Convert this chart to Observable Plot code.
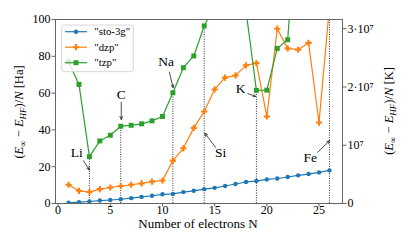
<!DOCTYPE html>
<html><head><meta charset="utf-8">
<script src="https://cdn.jsdelivr.net/npm/d3@7"></script>
<script src="https://cdn.jsdelivr.net/npm/@observablehq/plot@0.6"></script>
<style>body{margin:0;background:#fff}#chart{width:415px;height:249px}</style>
</head><body><div id="chart"></div>
<script>
// Number of electrons
const electrons = [1,2,3,4,5,6,7,8,9,10,11,12,13,14,15,16,17,18,19,20,21,22,23,24,25,26];
// (E_inf - E_HF)/N in Ha
const sto3g = [0.4,0.7,1.1,1.6,1.9,2.3,2.9,3.6,4.2,5.0,5.2,6.2,6.9,7.8,8.5,9.5,10.6,11.7,12.2,13.1,13.6,14.4,15.3,16.0,16.9,18.0];
const dzp   = [10.2,6.9,6.2,7.8,8.7,9.5,10.2,10.9,11.9,12.5,23.3,30.0,41.1,50.0,62.0,68.4,69.6,75.1,76.3,47.3,95.0,84.3,83.6,87.3,44.0,107];
const tzp   = [77,64.7,25.5,34.0,37.1,42.0,42.5,43.3,44.9,47.3,60.2,73.8,80.2,96.5,108,118,114,105,61.5,61.6,84.3,89.0,170,null,null,null];
const seriesNames = ['"sto-3g"', '"dzp"', '"tzp"'];
const seriesColors = ["#1f77b4", "#ff7f0e", "#2ca02c"];
const seriesSymbols = ["circle", "cross", "square"];

// element annotations
const elemNames = ["Li", "C", "Na", "Si", "K", "Fe"];
const elemN     = [3, 6, 11, 14, 19, 26];
const elemTop   = [25.5, 42.0, 60.2, 96.5, 61.5, 100];
const labelN    = [1.79, 6.05, 10.35, 15.57, 17.49, 24.15];
const labelV    = [27.5, 59.0, 76.9, 27.5, 62.4, 24.7];
const arrowFromN = [2.42, 6.05, 10.66, 15.09, 18.19, 24.87];
const arrowFromV = [23.3, 55.1, 71.4, 30.5, 59.7, 27.8];
const arrowToN   = [3.0, 6.05, 11.02, 14.06, 18.93, 26.02];
const arrowToV   = [18.2, 45.7, 62.9, 38.2, 58.2, 34.2];

const xTicks = [0, 5, 10, 15, 20, 25];
const yTicks = [0, 20, 40, 60, 80, 100];
const kTicks = [0, 1e7, 2e7, 3e7];
const HA_TO_K = 315775;

const SERIF = "'Liberation Serif', 'Times New Roman', serif";
const markR = [2.2, 2.6, 2.8];

const rows = [];
[sto3g, dzp, tzp].forEach((vals, s) => vals.forEach((v, i) => rows.push({N: electrons[i], v, s: seriesNames[s]})));
const elems = elemNames.map((name, i) => ({name, N: elemN[i], top: elemTop[i], lx: labelN[i], ly: labelV[i],
  x1: arrowFromN[i], y1: arrowFromV[i], x2: arrowToN[i], y2: arrowToV[i]}));

const kFormat = d => {
  const n = Math.round(d * HA_TO_K / 1e7);
  return n === 0 ? "0" : (n === 1 ? "10⁷" : n + "·10⁷");
};

const marks = [
  Plot.ruleX(elems, {x: "N", y1: 0, y2: "top", stroke: "#333", strokeWidth: 1, strokeDasharray: "1,1.4", clip: true})
];
seriesNames.forEach((name, s) => {
  const data = rows.filter(r => r.s === name && r.v != null);
  marks.push(Plot.line(data, {x: "N", y: "v", stroke: seriesColors[s], strokeWidth: 1.2, clip: true}));
  marks.push(Plot.dot(data, {x: "N", y: "v", fill: seriesColors[s], symbol: seriesSymbols[s],
    r: markR[s], stroke: "none", clip: true}));
});
marks.push(
  Plot.frame({stroke: "#666", strokeWidth: 1}),
  Plot.axisX({ticks: xTicks, tickSize: 3.5, tickPadding: -1.5, label: null, stroke: "#666"}),
  Plot.axisY({ticks: yTicks, tickSize: 3.5, tickPadding: 1.5, label: null, stroke: "#666"}),
  Plot.axisY({anchor: "right", ticks: kTicks.map(k => k / HA_TO_K), tickFormat: kFormat, tickSize: 3.5, tickPadding: 1.5, label: null, stroke: "#666"}),
  Plot.arrow(elems, {x1: "x1", y1: "y1", x2: "x2", y2: "y2", stroke: "#222", strokeWidth: 0.8, headLength: 6, headAngle: 50}),
  Plot.text(elems, {x: "lx", y: "ly", text: "name", fontSize: 13.5, fill: "black", fontFamily: SERIF})
);

const svgEl = Plot.plot({
  width: 415, height: 249,
  marginLeft: 55, marginRight: 73, marginTop: 19, marginBottom: 46,
  x: {domain: [-0.25, 27.25]},
  y: {domain: [0, 100]},
  style: {fontFamily: SERIF, fontSize: "12px", background: "white", color: "black", overflow: "visible"},
  marks
});
document.getElementById("chart").appendChild(svgEl);

const svg = d3.select(svgEl);
// legend
const lg = svg.append("g").attr("font-family", SERIF).attr("font-size", 10.8).attr("text-anchor", "start");
lg.append("rect").attr("x", 61.7).attr("y", 25).attr("width", 71.6).attr("height", 46.7).attr("rx", 2.5)
  .attr("fill", "white").attr("fill-opacity", 0.8).attr("stroke", "#ccc").attr("stroke-width", 0.8);
seriesNames.forEach((name, s) => {
  const y = 31.7 + s * 15.5;
  lg.append("line").attr("x1", 65).attr("x2", 87).attr("y1", y).attr("y2", y).attr("stroke", seriesColors[s]).attr("stroke-width", 1.2);
  const sym = {circle: d3.symbolCircle, cross: d3.symbolCross, square: d3.symbolSquare}[seriesSymbols[s]];
  lg.append("path").attr("d", d3.symbol(sym, Math.PI * markR[s] * markR[s])()).attr("transform", `translate(76,${y})`).attr("fill", seriesColors[s]);
  lg.append("text").attr("x", 94.3).attr("y", y).attr("dy", "0.35em").attr("text-anchor", "start").text(name);
});

function mathLabel(g, unit) {
  const t = g.append("text").attr("text-anchor", "middle").attr("font-family", SERIF).attr("font-size", 12.5);
  t.append("tspan").text("(");
  t.append("tspan").attr("font-style", "italic").text("E");
  t.append("tspan").attr("font-size", 9).attr("dy", 2.5).text("∞");
  t.append("tspan").attr("dy", -2.5).text(" − ");
  t.append("tspan").attr("font-style", "italic").text("E");
  t.append("tspan").attr("font-size", 9).attr("font-style", "italic").attr("dy", 2.5).text("HF");
  t.append("tspan").attr("dy", -2.5).text(")/");
  t.append("tspan").attr("font-style", "italic").text("N");
  t.append("tspan").text(" [" + unit + "]");
}
mathLabel(svg.append("g").attr("transform", "translate(23,112) rotate(-90)"), "Ha");
mathLabel(svg.append("g").attr("transform", "translate(393,111) rotate(-90)"), "K");
svg.append("text").attr("x", 198).attr("y", 227.5).attr("text-anchor", "middle")
  .attr("font-family", SERIF).attr("font-size", 13).text("Number of electrons N");
</script>
</body></html>
